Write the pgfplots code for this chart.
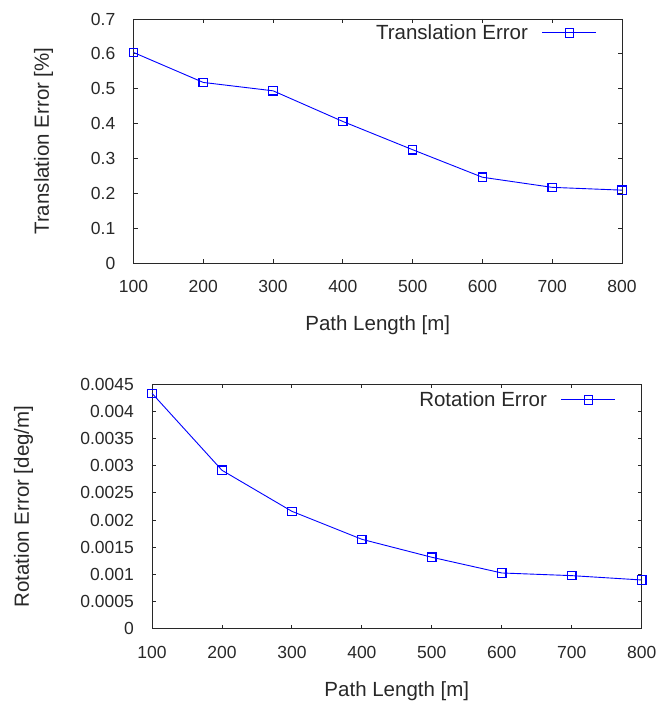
\documentclass[border=0pt]{standalone}
\usepackage{fontspec}
\setmainfont{Liberation Sans}
\usepackage{pgfplots}
\pgfplotsset{compat=1.18}
\definecolor{axgray}{RGB}{40,40,40}
\pgfplotsset{
  myaxis/.style={
    scale only axis,
    clip=false,
    axis line style={axgray, line width=0.9pt},
    every tick/.style={axgray, line width=0.9pt},
    major tick length=4pt,
    tick align=inside,
    xmin=100, xmax=800,
    xtick={100,200,300,400,500,600,700,800},
    /pgf/number format/assume math mode=true,
    tick label style={font=\fontsize{17.5}{21}\selectfont, text=axgray},
    xticklabel style={inner sep=0pt, anchor=north, yshift=-17pt},
    yticklabel style={inner sep=0pt, anchor=east, xshift=-18pt},
    label style={font=\fontsize{20.5}{24}\selectfont, text=axgray, inner sep=0pt},
    legend plot pos=right,
    legend cell align=right,
    legend image code/.code={\draw[mark repeat=2,mark phase=2,#1] plot coordinates {(0pt,0pt) (27pt,0pt) (54pt,0pt)};},
  },
  myplot/.style={color=blue, draw=blue, line width=0.9pt, mark=square, mark size=4.2pt, mark options={solid, draw=blue, line width=1.2pt, fill=none}},
}
\begin{document}
\begin{tikzpicture}[x=1pt,y=1pt]
\path[use as bounding box] (0,0) rectangle (659,706);
\begin{axis}[myaxis,
  at={(133.5pt,443pt)}, anchor=south west,
  width=488.5pt, height=244pt,
  ymin=0, ymax=0.7,
  ytick={0,0.1,0.2,0.3,0.4,0.5,0.6,0.7},
  yticklabels={0,0.1,0.2,0.3,0.4,0.5,0.6,0.7},
  xlabel={Path Length [m]},
  ylabel={Translation Error [\%]},
  xlabel style={at={(axis description cs:0.5,0)}, anchor=north, yshift=-52pt},
  ylabel style={at={(axis description cs:-0.1642,0.5)}, anchor=south},
  legend style={draw=none, fill=none, at={(0.949,0.943)}, anchor=east, inner sep=0pt, column sep=12pt, font=\fontsize{20.5}{24}\selectfont, text=axgray},
]
\addplot[myplot] coordinates {(100,0.604) (200,0.518) (300,0.494) (400,0.406) (500,0.325) (600,0.246) (700,0.217) (800,0.209)};
\addlegendentry{Translation Error}
\end{axis}
\begin{axis}[myaxis,
  at={(152pt,77.3pt)}, anchor=south west,
  width=489.7pt, height=244.4pt,
  ymin=0, ymax=0.0045,
  scaled y ticks=false,
  ytick={0,0.0005,0.001,0.0015,0.002,0.0025,0.003,0.0035,0.004,0.0045},
  yticklabels={0,0.0005,0.001,0.0015,0.002,0.0025,0.003,0.0035,0.004,0.0045},
  xlabel={Path Length [m]},
  ylabel={Rotation Error [deg/m]},
  xlabel style={at={(axis description cs:0.5,0)}, anchor=north, yshift=-53pt},
  ylabel style={at={(axis description cs:-0.2424,0.5)}, anchor=south},
  legend style={draw=none, fill=none, at={(0.9475,0.936)}, anchor=east, inner sep=0pt, column sep=12pt, font=\fontsize{20.5}{24}\selectfont, text=axgray},
]
\addplot[myplot] coordinates {(100,0.004334) (200,0.002917) (300,0.002161) (400,0.001646) (500,0.001315) (600,0.001026) (700,0.000977) (800,0.000897)};
\addlegendentry{Rotation Error}
\end{axis}
\end{tikzpicture}
\end{document}
